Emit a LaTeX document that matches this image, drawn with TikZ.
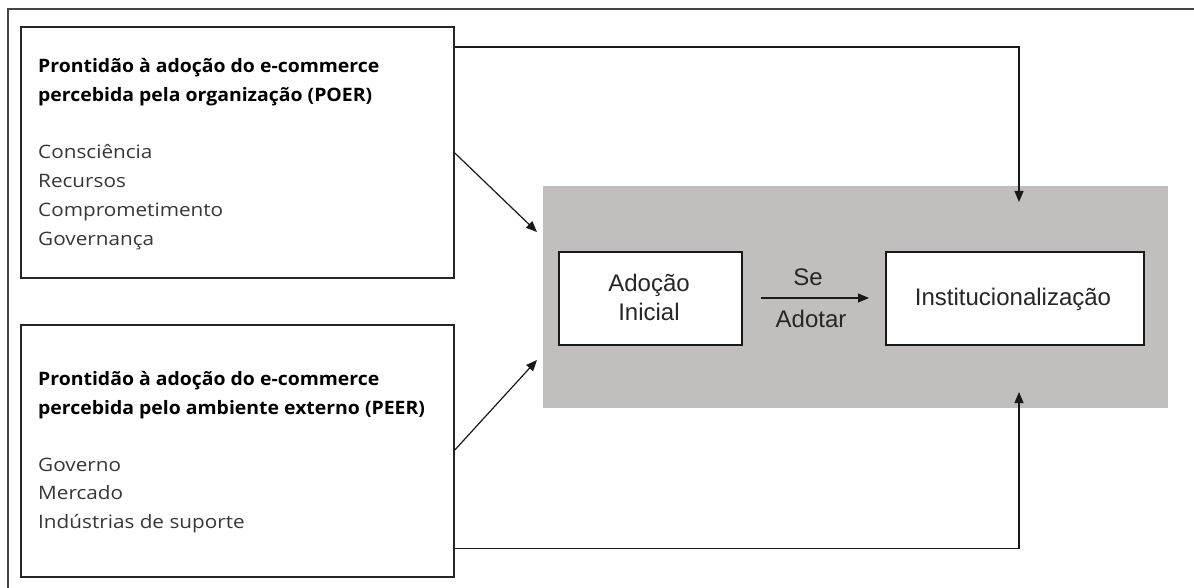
\documentclass[tikz,border=0pt]{standalone}
\usepackage{fontspec}
\setmainfont{Liberation Sans}
\newfontfamily\titlefont[FakeStretch=1.05]{Open Sans}
\newfontfamily\itemfont[FakeStretch=1.12]{Open Sans}
\usetikzlibrary{arrows.meta}
\definecolor{grayfill}{RGB}{193,190,189}
\definecolor{itemgray}{RGB}{55,55,55}
\definecolor{framegray}{RGB}{70,70,70}
\begin{document}
\begin{tikzpicture}[x=1pt,y=-1pt,
  outerframe/.style={draw=framegray, line width=2pt},
  factorbox/.style={draw=black!85, line width=1.8pt, anchor=north west, inner sep=0pt},
  stagebox/.style={draw=black!90, line width=1.6pt, fill=white, anchor=north west, inner sep=0pt},
  titletext/.style={anchor=base west, inner sep=0pt, font=\titlefont\bfseries\fontsize{18.5}{22}\selectfont, text=black},
  itemtext/.style={anchor=base west, inner sep=0pt, font=\itemfont\fontsize{18.5}{22}\selectfont, text=itemgray},
  stagetext/.style={inner sep=0pt, font=\fontsize{24}{28}\selectfont, text=black!85},
  arr/.style={draw=black!90, line width=1.2pt, -{Triangle[length=11pt,width=9pt]}}
]
\useasboundingbox (0,0) rectangle (1194,588);
\fill[white] (0,0) rectangle (1194,588);
% outer frame (open at right and bottom)
\draw[outerframe] (1194,9) -- (8,9) -- (8,588);

% factor boxes
\node[factorbox, minimum width=433pt, minimum height=251pt] (poer) at (20,26) {};
\node[factorbox, minimum width=433pt, minimum height=252pt] (peer) at (20,324) {};

\node[titletext] (poert1) at (38,72.7) {Prontidão à adoção do e-commerce};
\node[titletext] (poert2) at (38,101.5) {percebida pela organização (POER)};
\node[itemtext] (poeri1) at (38,159) {Consciência};
\node[itemtext] (poeri2) at (38,187.7) {Recursos};
\node[itemtext] (poeri3) at (38,216.4) {Comprometimento};
\node[itemtext] (poeri4) at (38,245) {Governança};

\node[titletext] (peert1) at (38,385) {Prontidão à adoção do e-commerce};
\node[titletext] (peert2) at (38,414) {percebida pelo ambiente externo (PEER)};
\node[itemtext] (peeri1) at (38,471) {Governo};
\node[itemtext] (peeri2) at (38,499.5) {Mercado};
\node[itemtext] (peeri3) at (38,528) {Indústrias de suporte};

% gray stage area
\node[fill=grayfill, anchor=north west, minimum width=625pt, minimum height=222pt, inner sep=0pt] (stage) at (543,186) {};
\node[stagebox, minimum width=183pt, minimum height=93pt] (adocao) at (558,251) {};
\node[stagebox, minimum width=258pt, minimum height=93pt] (inst) at (885,251) {};

\node[stagetext, anchor=base] (adt1) at (649,291) {Adoção};
\node[stagetext, anchor=base] (adt2) at (649,320) {Inicial};
\node[stagetext, anchor=base] (inst1) at (1013,305) {Institucionalização};
\node[stagetext, anchor=base] (se) at (808,285) {Se};
\node[stagetext, anchor=base] (adotar) at (811,327) {Adotar};

% connectors
\coordinate (topin) at (1019,202);
\coordinate (botin) at (1019,392);
\coordinate (diagin1) at (537,232);
\coordinate (diagin2) at (537,360);
\coordinate (seA) at (761,298);
\coordinate (seB) at (869,298);

\draw[arr] ([yshift=-21pt]poer.north east) -| (topin);
\draw[arr] ([yshift=-127pt]poer.north east) -- (diagin1);
\draw[arr] ([yshift=-126pt]peer.north east) -- (diagin2);
\draw[arr] ([yshift=29pt]peer.south east) -| (botin);
\draw[arr] (seA) -- (seB);
\end{tikzpicture}
\end{document}
